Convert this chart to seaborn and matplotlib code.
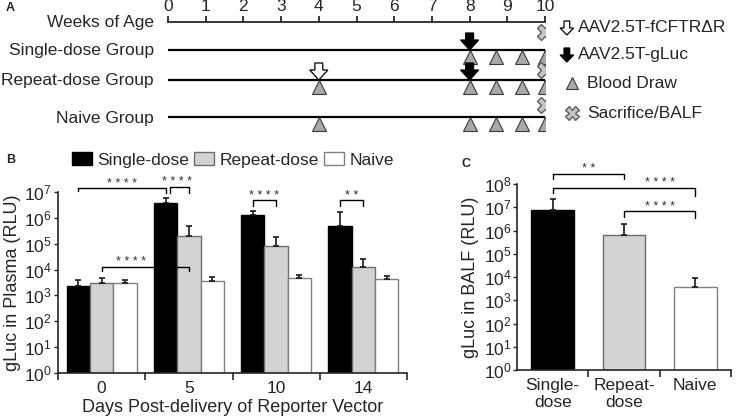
import numpy as np
import pandas as pd
import matplotlib
matplotlib.use("Agg")
import matplotlib.pyplot as plt
from matplotlib.patches import Patch
from matplotlib.ticker import NullLocator
import seaborn as sns

# --- A: study timeline (weeks of age) ---
week_ticks = list(range(0, 11))
group_rows = ["Single-dose Group", "Repeat-dose Group", "Naive Group"]
fcftr_weeks = [[], [4], []]            # AAV2.5T-fCFTRdR, open arrow
gluc_weeks = [[8], [8], []]            # AAV2.5T-gLuc, black arrow
blood_weeks = [[8, 8.7, 9.4, 10], [4, 8, 8.7, 9.4, 10], [4, 8, 8.7, 9.4, 10]]
sacrifice_weeks = [[10], [10], [10]]
legend_a = ["AAV2.5T-fCFTR\u0394R", "AAV2.5T-gLuc", "Blood Draw", "Sacrifice/BALF"]

# --- B: gLuc in plasma (RLU), bar top and error-bar top ---
days = ["0", "5", "10", "14"]
groups = ["Single-dose", "Repeat-dose", "Naive"]
plasma_single = [2.4e3, 3.7e6, 1.3e6, 4.7e5]
plasma_repeat = [3.0e3, 2.0e5, 7.9e4, 1.3e4]
plasma_naive = [2.9e3, 3.7e3, 4.9e3, 4.5e3]
plasma_single_hi = [3.8e3, 6.1e6, 1.9e6, 1.7e6]
plasma_repeat_hi = [4.7e3, 4.7e5, 1.8e5, 2.6e4]
plasma_naive_hi = [4.1e3, 5.0e3, 6.3e3, 5.5e3]

# --- C: gLuc in BALF (RLU) ---
balf_groups = ["Single-\ndose", "Repeat-\ndose", "Naive"]
balf_rlu = [7.4e6, 6.6e5, 3.9e3]
balf_hi = [2.3e7, 2.0e6, 8.9e3]

# significance: ((day, group), (day, group), stars)
b_sig = [((0, 0), (1, 0), "****"), ((1, 0), (1, 1), "****"), ((0, 1), (1, 1), "****"),
         ((2, 0), (2, 1), "****"), ((3, 0), (3, 1), "**")]
c_sig = [(0, 1, "**"), (0, 2, "****"), (1, 2, "****")]

fills = ["black", "#d3d3d3", "white"]
edges = ["black", "#6e6e6e", "#808080"]

sns.set_theme(style="ticks")
plt.rcParams["font.family"] = ["Liberation Sans", "DejaVu Sans"]
plt.rcParams["mathtext.fontset"] = "custom"
plt.rcParams["mathtext.rm"] = "Liberation Sans"
plt.rcParams["mathtext.default"] = "regular"
plt.rcParams["axes.linewidth"] = 1.2
fs = 12.5

fig = plt.figure(figsize=(7.38, 4.2), dpi=100)
W, H = 738.0, 420.0


def px_box(left, top, right, bottom):
    return [left / W, 1 - bottom / H, (right - left) / W, (bottom - top) / H]


def bracket(ax, x1, x2, y, y1, y2, stars, dx=0, tx=0):
    ax.plot([x1 + dx, x1 + dx, x2, x2], [10 ** y1, 10 ** y, 10 ** y, 10 ** y2],
            color="black", lw=1.0, clip_on=False, zorder=5)
    ax.annotate(" ".join(stars), ((x1 + x2) / 2, 10 ** y), xytext=(tx, -1),
                textcoords="offset points", ha="center", va="bottom",
                fontsize=9, color="#333333", annotation_clip=False)


def down_arrow(ax, x, y_tip, length, color, stem, head, head_len, clip=True):
    ax.arrow(x, y_tip - length, 0, length, width=stem, head_width=head, head_length=head_len,
             length_includes_head=True, fc=color, ec="black", lw=0.9, zorder=4, clip_on=clip)


# ---------------- A ----------------
ax_a = fig.add_axes(px_box(168, 0, 545, H))
ax_a.set_xlim(0, 10)
ax_a.set_ylim(H, 0)
ax_a.axis("off")

ax_t = fig.add_axes(px_box(168, 22, 545, 23))
ax_t.patch.set_visible(False)
ax_t.set_xlim(0, 10)
ax_t.set_xticks(week_ticks)
ax_t.xaxis.tick_top()
ax_t.set_yticks([])
for s in ["bottom", "left", "right"]:
    ax_t.spines[s].set_visible(False)
ax_t.spines["top"].set_linewidth(1.3)
ax_t.tick_params(axis="x", direction="out", length=4, width=1.3, pad=2, labelsize=fs)

ax_a.text(-0.37, 22, "Weeks of Age", ha="right", va="center", fontsize=fs)
row_y = [50, 80, 117]
cross_lift = [18, 10, 12]
for i, label in enumerate(group_rows):
    y = row_y[i]
    ax_a.text(-0.37, y + 1, label, ha="right", va="center", fontsize=fs)
    ax_a.plot([0, 10], [y, y], color="black", lw=1.6, solid_capstyle="butt", zorder=2)
    ax_a.plot(blood_weeks[i], [y + 7] * len(blood_weeks[i]), marker="^", ls="none", ms=10,
              mfc="#a8a8a8", mec="#3a3a3a", mew=0.8, zorder=3)
    ax_a.plot(sacrifice_weeks[i], [y - cross_lift[i]] * len(sacrifice_weeks[i]), marker="X",
              ls="none", ms=11, mfc="#c4c4c4", mec="#5e5e5e", mew=1.0, zorder=3)
    for wk in gluc_weeks[i]:
        down_arrow(ax_a, wk, y, 17, "black", 0.21, 0.48, 10)
    for wk in fcftr_weeks[i]:
        down_arrow(ax_a, wk, y, 17, "white", 0.21, 0.48, 10)

# legend of panel A
leg_y = [28, 55, 83, 113]
down_arrow(ax_a, 10.58, leg_y[0] + 7, 14, "white", 0.15, 0.36, 7, clip=False)
down_arrow(ax_a, 10.58, leg_y[1] + 7, 14, "black", 0.15, 0.36, 7, clip=False)
ax_a.plot([10.72], [leg_y[2]], marker="^", ms=9, mfc="#a8a8a8", mec="#3a3a3a",
          mew=0.8, clip_on=False)
ax_a.plot([10.72], [leg_y[3]], marker="X", ms=10, mfc="#c4c4c4", mec="#5e5e5e",
          mew=1.0, clip_on=False)
for j, txt in enumerate(legend_a):
    ax_a.text(10.88 if j < 2 else 11.11, leg_y[j], txt, ha="left", va="center",
              fontsize=fs, clip_on=False)

# ---------------- B ----------------
ax_b = fig.add_axes(px_box(58, 192, 407, 373))
df_b = pd.DataFrame({
    "day": days * 3,
    "group": np.repeat(groups, len(days)),
    "rlu": plasma_single + plasma_repeat + plasma_naive,
})
hi_b = [plasma_single_hi, plasma_repeat_hi, plasma_naive_hi]
mean_b = [plasma_single, plasma_repeat, plasma_naive]
sns.barplot(data=df_b, x="day", y="rlu", hue="group", order=days, hue_order=groups,
            palette=fills, saturation=1, errorbar=None, legend=False,
            width=0.8, linewidth=1.0, ax=ax_b)
ax_b.set_yscale("log")
bar_conts = list(ax_b.containers)
centers_b = []
for k, cont in enumerate(bar_conts):
    xs = []
    for p in cont:
        p.set_edgecolor(edges[k])
        xs.append(p.get_x() + p.get_width() / 2)
    centers_b.append(xs)
for k, xs in enumerate(centers_b):
    m = np.array(mean_b[k])
    ax_b.errorbar(xs, m, yerr=[np.zeros_like(m), np.array(hi_b[k]) - m], fmt="none",
                  ecolor="#1a1a1a", elinewidth=1.2, capsize=2.5, capthick=1.2, zorder=3)

ax_b.set_ylim(1, 1e7)
ax_b.set_yticks([10.0 ** k for k in range(8)])
ax_b.yaxis.set_minor_locator(NullLocator())
ax_b.set_xlim(-0.5, 3.5)
ax_b.set_xticks(range(len(days)))
ax_b.set_xticklabels(days)
ax_b.set_xticks([-0.5, 0.5, 1.5, 2.5, 3.5], minor=True)
ax_b.tick_params(axis="x", which="major", length=0, pad=6, labelsize=fs)
ax_b.tick_params(axis="x", which="minor", length=5, width=1.2, direction="out")
ax_b.tick_params(axis="y", length=3, width=1.0, pad=1.5, labelsize=fs)
ax_b.set_xlabel("Days Post-delivery of Reporter Vector", fontsize=13, labelpad=2)
ax_b.set_ylabel("gLuc in Plasma (RLU)", fontsize=13, labelpad=2)
sns.despine(ax=ax_b)

b_levels = [(7.15, 7.02, 6.96), (7.19, 6.96, 6.96), (4.10, 3.96, 3.96),
            (6.68, 6.47, 6.47), (6.68, 6.47, 6.47)]
b_leg_shift = [0, 0.05, 0, 0, 0]
b_text_shift = [0, 0, -10, 0, 0]
for (a, b, stars), (yh, y1, y2), off, tx in zip(b_sig, b_levels, b_leg_shift, b_text_shift):
    bracket(ax_b, centers_b[a[1]][a[0]], centers_b[b[1]][b[0]], yh, y1, y2, stars,
            dx=off, tx=tx)

fig.legend(handles=[Patch(facecolor=f, edgecolor=e, lw=1.0) for f, e in zip(fills, edges)],
           labels=groups, loc="center left", bbox_to_anchor=(72 / W, 1 - 160 / H), ncol=3,
           frameon=False, fontsize=fs, handlelength=1.15, handleheight=0.75,
           handletextpad=0.3, columnspacing=0.3, borderpad=0, borderaxespad=0)

# ---------------- C ----------------
ax_c = fig.add_axes(px_box(517, 184, 731, 370))
df_c = pd.DataFrame({"group": balf_groups, "rlu": balf_rlu})
sns.barplot(data=df_c, x="group", y="rlu", hue="group", order=balf_groups,
            hue_order=balf_groups, palette=fills, saturation=1, errorbar=None,
            legend=False, width=0.6, linewidth=1.0, ax=ax_c)
ax_c.set_yscale("log")
centers_c = []
for k, p in enumerate(list(ax_c.patches)):
    p.set_edgecolor(edges[k])
    centers_c.append(p.get_x() + p.get_width() / 2)
m = np.array(balf_rlu)
ax_c.errorbar(centers_c, m, yerr=[np.zeros_like(m), np.array(balf_hi) - m], fmt="none",
              ecolor="#1a1a1a", elinewidth=1.2, capsize=2.5, capthick=1.2, zorder=3)
ax_c.set_ylim(1, 1e8)
ax_c.set_yticks([10.0 ** k for k in range(9)])
ax_c.yaxis.set_minor_locator(NullLocator())
ax_c.set_xlim(-0.5, 2.5)
ax_c.set_xticks(range(3))
ax_c.set_xticklabels(balf_groups, linespacing=1.1)
ax_c.set_xticks([0.5, 1.5, 2.5], minor=True)
ax_c.tick_params(axis="x", which="major", length=0, pad=6, labelsize=fs)
ax_c.tick_params(axis="x", which="minor", length=5, width=1.2, direction="out")
ax_c.tick_params(axis="y", length=3, width=1.0, pad=1, labelsize=fs)
ax_c.set_xlabel("")
ax_c.set_ylabel("gLuc in BALF (RLU)", fontsize=13, labelpad=3)
sns.despine(ax=ax_c)

c_levels = [(8.43, 8.22, 8.22), (7.83, 7.61, 7.47), (6.82, 6.60, 6.54)]
c_text_shift = [0, 26, 0]
for (a, b, stars), (yh, y1, y2), tx in zip(c_sig, c_levels, c_text_shift):
    bracket(ax_c, centers_c[a], centers_c[b], yh, y1, y2, stars, tx=tx)

# panel letters
for letter, x, y in [("A", 6, 8), ("B", 6, 160), ("C", 461, 164)]:
    fig.text(x / W, 1 - y / H, letter, fontsize=9, fontweight="bold", va="center")

fig.savefig("out.png", dpi=100)
